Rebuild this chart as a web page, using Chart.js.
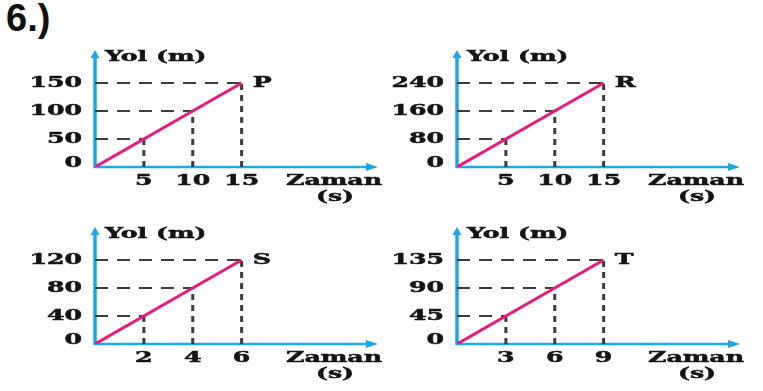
<!DOCTYPE html>
<html>
<head>
<meta charset="utf-8">
<script src="https://cdn.jsdelivr.net/npm/chart.js@4/dist/chart.umd.min.js"></script>
<style>
  body { margin: 0; background: #fff; width: 763px; height: 391px; overflow: hidden; position: relative; }
  #title { position: absolute; left: 6px; top: -3px; font: bold 38px "Liberation Sans", Arial, sans-serif; color: #111; }
  canvas { position: absolute; }
</style>
</head>
<body>
<div id="title">6.)</div>
<canvas id="c0" width="385" height="165" style="left:0px;top:40px"></canvas>
<canvas id="c1" width="385" height="165" style="left:362px;top:40px"></canvas>
<canvas id="c2" width="385" height="165" style="left:0px;top:217px"></canvas>
<canvas id="c3" width="385" height="165" style="left:362px;top:217px"></canvas>
<script>
// datos de las cuatro gráficas
const letras = ['P', 'R', 'S', 'T'];
const ticksX = [[5, 10, 15], [5, 10, 15], [2, 4, 6], [3, 6, 9]];
const ticksY = [[0, 50, 100, 150], [0, 80, 160, 240], [0, 40, 80, 120], [0, 45, 90, 135]];
const tiempos = [[0, 15], [0, 15], [0, 6], [0, 9]];
const caminos = [[0, 150], [0, 240], [0, 120], [0, 135]];

const AZUL = '#1ea6e6';
const ROSA = '#e8197f';
const GRIS = '#3c3c3c';
const SX = 1.68; // la figura original está estirada en horizontal
const FUENTE = 'bold 15px "DejaVu Serif"';

function texto(ctx, t, x, y, align) {
    ctx.save();
    ctx.translate(x, y);
    ctx.scale(SX, 1);
    ctx.textAlign = align;
    ctx.textBaseline = 'middle';
    ctx.lineWidth = 0.5;
    ctx.strokeText(t, 0, 0);
    ctx.fillText(t, 0, 0);
    ctx.restore();
}

const ejesPlugin = {
    id: 'ejes',
    beforeDatasetsDraw(chart) {
        const { ctx, chartArea: a } = chart;
        ctx.save();
        ctx.strokeStyle = AZUL;
        ctx.fillStyle = AZUL;
        // eje y
        ctx.lineWidth = 3.5;
        ctx.beginPath();
        ctx.moveTo(a.left, a.bottom + 1);
        ctx.lineTo(a.left, a.top + 4);
        ctx.stroke();
        ctx.beginPath();
        ctx.moveTo(a.left, a.top - 2);
        ctx.lineTo(a.left - 4.5, a.top + 6);
        ctx.lineTo(a.left + 4.5, a.top + 6);
        ctx.closePath();
        ctx.fill();
        // eje x
        ctx.lineWidth = 2.5;
        ctx.beginPath();
        ctx.moveTo(a.left - 1, a.bottom);
        ctx.lineTo(a.right - 8, a.bottom);
        ctx.stroke();
        ctx.beginPath();
        ctx.moveTo(a.right, a.bottom);
        ctx.lineTo(a.right - 12, a.bottom - 4);
        ctx.lineTo(a.right - 12, a.bottom + 4);
        ctx.closePath();
        ctx.fill();
        ctx.restore();
    },
    afterDraw(chart, args, opts) {
        const { ctx, chartArea: a, scales } = chart;
        const i = opts.indice;
        ctx.save();
        ctx.fillStyle = '#141414';
        ctx.strokeStyle = '#141414';
        ctx.font = FUENTE;
        ticksY[i].forEach(v => {
            let y = scales.y.getPixelForValue(v);
            if (v === 0) y -= 4;
            texto(ctx, String(v), a.left - 13, y, 'right');
        });
        ticksX[i].forEach(v => {
            texto(ctx, String(v), scales.x.getPixelForValue(v), a.bottom + 14, 'center');
        });
        texto(ctx, 'Yol (m)', a.left + 10, a.top + 5, 'left');
        texto(ctx, 'Zaman', a.left + 239, a.bottom + 14, 'center');
        texto(ctx, '(s)', a.left + 240, a.bottom + 30, 'center');
        const n = tiempos[i].length - 1;
        texto(ctx, letras[i],
            scales.x.getPixelForValue(tiempos[i][n]) + 11,
            scales.y.getPixelForValue(caminos[i][n]), 'left');
        ctx.restore();
    }
};

function crearGrafica(i) {
    const xs = ticksX[i];
    const ys = ticksY[i].slice(1);
    const datasets = [{
        data: tiempos[i].map((t, k) => ({ x: t, y: caminos[i][k] })),
        borderColor: ROSA,
        borderWidth: 3,
        pointRadius: 0
    }];
    // líneas discontinuas de guía
    xs.forEach((x, k) => {
        datasets.push({
            data: [{ x: 0, y: ys[k] }, { x: x, y: ys[k] }],
            borderColor: GRIS, borderWidth: 2, borderDash: [13, 9], pointRadius: 0
        });
        datasets.push({
            data: [{ x: x, y: 0 }, { x: x, y: ys[k] }],
            borderColor: GRIS, borderWidth: 3, borderDash: [6, 5], pointRadius: 0
        });
    });
    const xMax = xs[xs.length - 1] * 1.93;
    const yMax = ys[ys.length - 1] * 1.37;
    new Chart(document.getElementById('c' + i), {
        type: 'line',
        data: { datasets },
        options: {
            responsive: false,
            animation: false,
            devicePixelRatio: 1,
            layout: { padding: { left: 0, top: 12, right: 7, bottom: 0 } },
            plugins: { legend: { display: false }, tooltip: { enabled: false }, ejes: { indice: i } },
            scales: {
                x: {
                    type: 'linear', min: 0, max: xMax,
                    grid: { display: false, drawTicks: false }, border: { display: false },
                    ticks: { display: false },
                    afterFit: s => { s.height = 38; }
                },
                y: {
                    type: 'linear', min: 0, max: yMax,
                    grid: { display: false, drawTicks: false }, border: { display: false },
                    ticks: { display: false },
                    afterFit: s => { s.width = 95; }
                }
            }
        },
        plugins: [ejesPlugin]
    });
}

for (let i = 0; i < 4; i++) crearGrafica(i);
</script>
</body>
</html>
